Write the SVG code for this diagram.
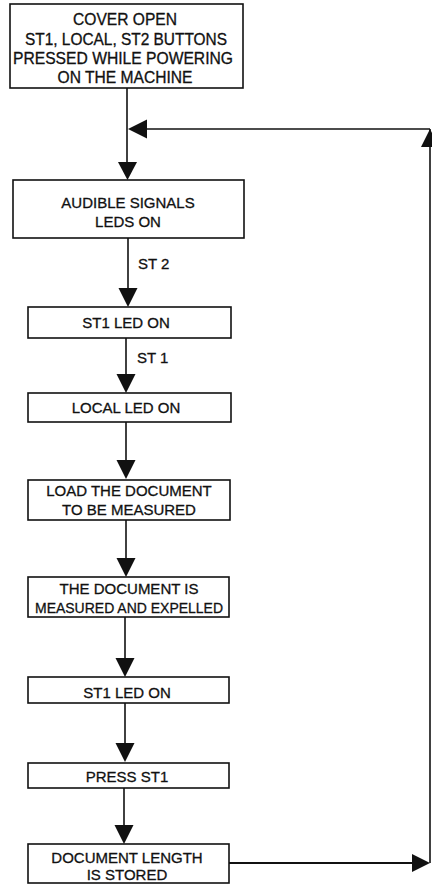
<svg xmlns="http://www.w3.org/2000/svg" width="432" height="885" viewBox="0 0 432 885">
<style>
.box{fill:#fff;stroke:#111;stroke-width:1.6}
.t{font-family:"Liberation Sans",Arial,sans-serif;font-size:15px;fill:#111;stroke:#111;stroke-width:0.3;text-anchor:middle}
.b1{font-size:15.6px}
.l{font-family:"Liberation Sans",Arial,sans-serif;font-size:15px;fill:#111;stroke:#111;stroke-width:0.3}
.c{stroke:#111;stroke-width:1.6;fill:none}
.ah{fill:#111}
</style>
<rect width="432" height="885" fill="#fff"/>
<g id="connectors">
<line class="c" x1="127" y1="88" x2="127" y2="165"/>
<polygon class="ah" points="118,162 137,162 127.5,180"/>
<line class="c" x1="145" y1="129" x2="430" y2="129"/>
<polygon class="ah" points="128,129 147,119.5 147,138.5"/>
<line class="c" x1="430" y1="129" x2="430" y2="863"/>
<polygon class="ah" points="430,129 421,147 439,147"/>
<line class="c" x1="229" y1="863" x2="415" y2="863" style="stroke-width:2.2"/>
<polygon class="ah" points="430,863 412,854 412,872"/>
<line class="c" x1="128" y1="238" x2="128" y2="290"/>
<polygon class="ah" points="118.5,288 137.5,288 128,307"/>
<line class="c" x1="126" y1="338" x2="126" y2="377"/>
<polygon class="ah" points="116.5,374 135.5,374 126,393"/>
<line class="c" x1="126" y1="422" x2="126" y2="462"/>
<polygon class="ah" points="116.5,460 135.5,460 126,479"/>
<line class="c" x1="126" y1="520" x2="126" y2="560"/>
<polygon class="ah" points="116.5,558 135.5,558 126,577"/>
<line class="c" x1="125" y1="617" x2="125" y2="660"/>
<polygon class="ah" points="115.5,658 134.5,658 125,677"/>
<line class="c" x1="125" y1="703" x2="125" y2="745"/>
<polygon class="ah" points="115.5,743 134.5,743 125,762"/>
<line class="c" x1="124" y1="788" x2="124" y2="828"/>
<polygon class="ah" points="114.5,825 133.5,825 124,844"/>
<text class="l" x="138" y="269">ST 2</text>
<text class="l" x="137" y="363">ST 1</text>
</g>
<g id="n1">
<rect class="box" x="10" y="4" width="233" height="84"/>
<text class="t b1" x="125" y="25">COVER OPEN</text>
<text class="t b1" x="126" y="44.5" textLength="202" lengthAdjust="spacingAndGlyphs">ST1, LOCAL, ST2 BUTTONS</text>
<text class="t b1" x="123" y="64" textLength="220" lengthAdjust="spacingAndGlyphs">PRESSED WHILE POWERING</text>
<text class="t b1" x="125" y="83">ON THE MACHINE</text>
</g>
<g id="n2">
<rect class="box" x="13" y="180" width="231" height="58"/>
<text class="t" x="128" y="208">AUDIBLE SIGNALS</text>
<text class="t" x="128" y="227">LEDS ON</text>
</g>
<g id="n3">
<rect class="box" x="28" y="307" width="203" height="31"/>
<text class="t" x="126" y="328">ST1 LED ON</text>
</g>
<g id="n4">
<rect class="box" x="28" y="393" width="203" height="29"/>
<text class="t" x="126" y="413">LOCAL LED ON</text>
</g>
<g id="n5">
<rect class="box" x="28" y="480" width="202" height="40"/>
<text class="t" x="129" y="496">LOAD THE DOCUMENT</text>
<text class="t" x="129" y="515">TO BE MEASURED</text>
</g>
<g id="n6">
<rect class="box" x="28" y="577" width="201" height="40"/>
<text class="t" x="129" y="594">THE DOCUMENT IS</text>
<text class="t" x="129" y="613" textLength="188" lengthAdjust="spacingAndGlyphs">MEASURED AND EXPELLED</text>
</g>
<g id="n7">
<rect class="box" x="28" y="677" width="201" height="26"/>
<text class="t" x="127" y="698">ST1 LED ON</text>
</g>
<g id="n8">
<rect class="box" x="28" y="763" width="201" height="25"/>
<text class="t" x="127" y="782">PRESS ST1</text>
</g>
<g id="n9">
<rect class="box" x="28" y="844" width="201" height="39"/>
<text class="t" x="127" y="863">DOCUMENT LENGTH</text>
<text class="t" x="127" y="880">IS STORED</text>
</g>
</svg>
